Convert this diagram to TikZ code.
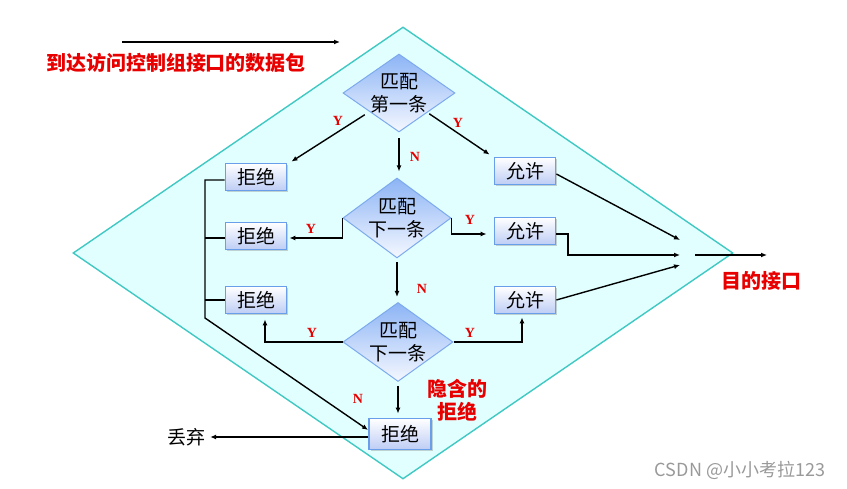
\documentclass[tikz,border=0pt]{standalone}
\usepackage{fontspec}
\newfontfamily\cjk{Noto Sans CJK SC}
\newfontfamily\lat{Liberation Serif}
\usetikzlibrary{shapes.geometric,arrows.meta,shadows}
\definecolor{frameedge}{RGB}{64,200,195}
\definecolor{framefill}{RGB}{226,255,255}
\definecolor{dedge}{RGB}{125,170,238}
\definecolor{dtop}{RGB}{140,180,245}
\definecolor{dbot}{RGB}{245,248,255}
\definecolor{bedge}{RGB}{105,158,235}
\definecolor{bbot}{RGB}{190,205,245}
\definecolor{lred}{RGB}{232,0,0}
\tikzset{
  frame/.style={shape=diamond,draw=frameedge,fill=framefill,line width=1.4pt,minimum width=660pt,minimum height=452pt,inner sep=0pt},
  rule/.style={shape=diamond,draw=dedge,line width=1pt,top color=dtop,bottom color=dbot,minimum width=110pt,minimum height=79pt,inner sep=0pt},
  ruletext/.style={font=\cjk\fontsize{19}{23}\selectfont,align=center,inner sep=0pt},
  box/.style={draw=bedge,line width=1.8pt,top color=white,bottom color=bbot,minimum width=61pt,minimum height=27pt,inner sep=0pt,font=\cjk\fontsize{19}{21}\selectfont,drop shadow={shadow xshift=1.5pt,shadow yshift=-1.5pt,opacity=0.35}},
  conn/.style={draw=black,line width=1.4pt},
  arr/.style={conn,-{Latex[length=6pt,width=5pt]}},
  yn/.style={text=lred,font=\lat\bfseries\fontsize{14}{14}\selectfont,inner sep=0pt},
  redtxt/.style={text=lred,font=\cjk\bfseries\fontsize{20}{23}\selectfont,align=center,inner sep=0pt},
}
\begin{document}
\begin{tikzpicture}[x=1pt,y=-1pt]
\useasboundingbox (0,0) rectangle (847,489);
\node[frame] (fr) at (403,253) {};
% rule diamonds
\node[rule,minimum width=112pt,minimum height=78pt] (d1) at (399,93) {};
\node[ruletext] (t1) at (399,93) {匹配\\第一条};
\node[rule,minimum width=108pt,minimum height=80pt] (d2) at (397,218) {};
\node[ruletext] (t2) at (397,218) {匹配\\下一条};
\node[rule] (d3) at (398,342) {};
\node[ruletext] (t3) at (398,342) {匹配\\下一条};
% boxes
\node[box] (rej1) at (256,177) {拒绝};
\node[box] (rej2) at (256,236) {拒绝};
\node[box] (rej3) at (256,300) {拒绝};
\node[box] (ok1) at (525,171) {允许};
\node[box] (ok2) at (525,231) {允许};
\node[box] (ok3) at (525,300) {允许};
\node[box,minimum width=62pt,minimum height=31pt] (rej4) at (400,434) {拒绝};
% texts
\node[redtxt] (intxt) at (176,63) {到达访问控制组接口的数据包};
\node[redtxt] (dst) at (761,281) {目的接口};
\node[redtxt] (imp) at (457,400) {隐含的\\拒绝};
\node[font=\cjk\fontsize{19}{21}\selectfont,inner sep=0pt] (discard) at (186,437) {丢弃};
\node[text=black!40,font=\cjk\fontsize{18}{20}\selectfont,inner sep=0pt] (wm) at (740,470) {CSDN @小小考拉123};
% coordinates
\coordinate (inA) at (122,42);
\coordinate (inB) at (340,42);
\coordinate (bus) at (205,318);
\coordinate (j2) at (568,255);
\coordinate (in1) at (680,240);
\coordinate (in2) at (680,255);
\coordinate (in3) at (680,265);
\coordinate (outA) at (695,255);
\coordinate (outB) at (767,255);
% connectors
\draw[arr] (inA) -- (inB);
\draw[arr] ([xshift=-6pt,yshift=-2pt]d1.south west) -- ([xshift=4pt,yshift=1pt]rej1.north east);
\draw[arr] ([xshift=2pt,yshift=-1pt]d1.south east) -- ([xshift=-4pt,yshift=2pt]ok1.north west);
\draw[arr,shorten <=6pt,shorten >=6pt] (d1.south) -- (d1.south |- d2.north);
\draw[arr,shorten >=2pt] (d2.west) |- ([yshift=-2pt]rej2.east);
\draw[arr,shorten >=7pt] (d2.east) |- ([yshift=-3pt]ok2.west);
\draw[arr,shorten <=4pt,shorten >=5pt] (d2.south) -- (d2.south |- d3.north);
\draw[arr,shorten >=5pt] (d3.west) -| ([xshift=9pt]rej3.south);
\draw[arr,shorten >=3pt] (d3.east) -| ([xshift=-3pt]ok3.south);
\draw[arr,shorten <=4pt,shorten >=4pt] (d3.south) -- (d3.south |- rej4.north);
\draw[arr] ([yshift=-3pt]rej1.west) -| (bus) -- ([yshift=4pt]rej4.west);
\draw[conn] ([yshift=-2pt]rej2.west) -- ([yshift=-2pt]rej2.west -| bus);
\draw[conn] (rej3.west) -- (rej3.west -| bus);
\draw[arr] ([yshift=-3pt]rej4.west) -- ([xshift=5pt,yshift=-3pt]rej4.west -| discard.east);
\draw[arr] ([yshift=-3pt]ok1.east) -- (in1);
\draw[arr] ([yshift=-3pt]ok2.east) -| (j2) -- (in2);
\draw[arr] (ok3.east) -- (in3);
\draw[arr] (outA) -- (outB);
% Y/N labels
\node[yn] (y1) at (338,121) {Y};
\node[yn] (y2) at (458,123) {Y};
\node[yn] (n1) at (415,157) {N};
\node[yn] (y3) at (311,229) {Y};
\node[yn] (y4) at (470,220) {Y};
\node[yn] (n2) at (422,289) {N};
\node[yn] (y5) at (312,333) {Y};
\node[yn] (y6) at (470,333) {Y};
\node[yn] (n3) at (358,399) {N};
\end{tikzpicture}
\end{document}
